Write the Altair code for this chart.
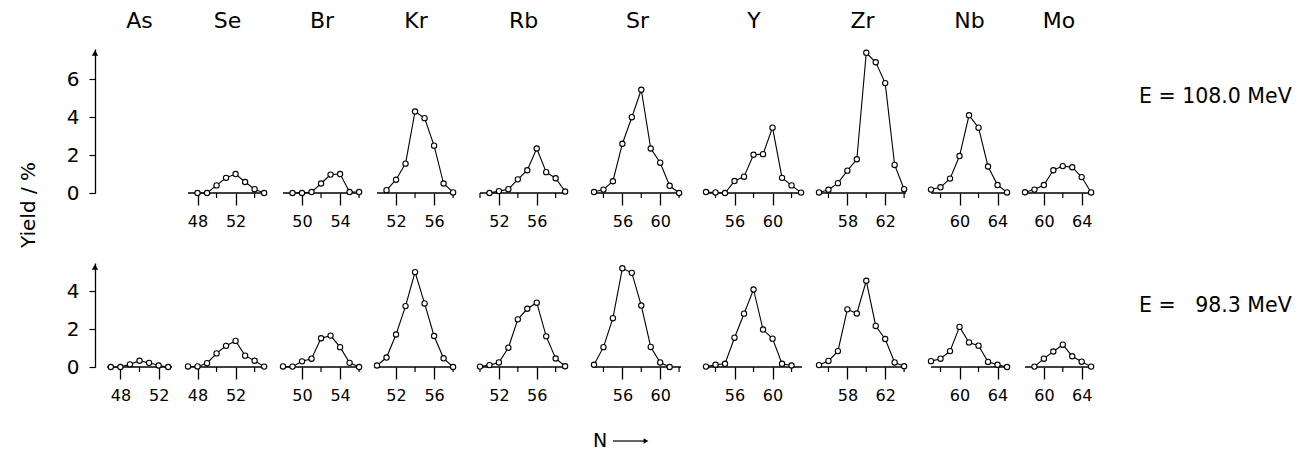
import altair as alt
import pandas as pd

ELEMENTS = ["As", "Se", "Br", "Kr", "Rb", "Sr", "Y", "Zr", "Nb", "Mo"]

# ---------- E = 108.0 MeV : neutron number N and yield (%) ----------
se_108_n = [48, 49, 50, 51, 52, 53, 54, 55]
se_108_y = [0.0, 0.0, 0.4, 0.8, 1.0, 0.58, 0.2, 0.0]
br_108_n = [49, 50, 51, 52, 53, 54, 55, 56]
br_108_y = [0.0, 0.0, 0.05, 0.5, 0.97, 1.0, 0.05, 0.05]
kr_108_n = [51, 52, 53, 54, 55, 56, 57, 58]
kr_108_y = [0.15, 0.7, 1.55, 4.3, 3.95, 2.5, 0.5, 0.03]
rb_108_n = [51, 52, 53, 54, 55, 56, 57, 58, 59]
rb_108_y = [0.0, 0.1, 0.2, 0.72, 1.2, 2.35, 1.1, 0.78, 0.08]
sr_108_n = [53, 54, 55, 56, 57, 58, 59, 60, 61, 62]
sr_108_y = [0.05, 0.18, 0.62, 2.6, 4.0, 5.45, 2.35, 1.6, 0.38, 0.0]
y_108_n = [53, 54, 55, 56, 57, 58, 59, 60, 61, 62, 63]
y_108_y = [0.05, 0.03, 0.0, 0.63, 0.86, 2.02, 2.05, 3.45, 0.8, 0.4, 0.02]
zr_108_n = [55, 56, 57, 58, 59, 60, 61, 62, 63, 64]
zr_108_y = [0.03, 0.17, 0.52, 1.18, 1.78, 7.4, 6.9, 5.8, 1.48, 0.2]
nb_108_n = [57, 58, 59, 60, 61, 62, 63, 64, 65]
nb_108_y = [0.18, 0.3, 0.76, 1.95, 4.1, 3.45, 1.4, 0.42, 0.03]
mo_108_n = [58, 59, 60, 61, 62, 63, 64, 65]
mo_108_y = [0.04, 0.18, 0.42, 1.2, 1.42, 1.36, 0.84, 0.03]

# ---------- E = 98.3 MeV ----------
as_98_n = [47, 48, 49, 50, 51, 52, 53]
as_98_y = [0.0, 0.0, 0.14, 0.33, 0.22, 0.08, 0.0]
se_98_n = [47, 48, 49, 50, 51, 52, 53, 54, 55]
se_98_y = [0.03, 0.03, 0.2, 0.72, 1.12, 1.38, 0.6, 0.33, 0.02]
br_98_n = [48, 49, 50, 51, 52, 53, 54, 55, 56]
br_98_y = [0.03, 0.02, 0.3, 0.44, 1.52, 1.66, 1.05, 0.22, 0.0]
kr_98_n = [50, 51, 52, 53, 54, 55, 56, 57, 58]
kr_98_y = [0.08, 0.5, 1.72, 3.22, 5.02, 3.36, 1.64, 0.46, 0.0]
rb_98_n = [50, 51, 52, 53, 54, 55, 56, 57, 58, 59]
rb_98_y = [0.02, 0.1, 0.24, 1.02, 2.52, 3.08, 3.4, 1.62, 0.45, 0.04]
sr_98_n = [53, 54, 55, 56, 57, 58, 59, 60, 61]
sr_98_y = [0.12, 1.05, 2.58, 5.22, 4.98, 3.25, 1.06, 0.24, 0.0]
y_98_n = [53, 54, 55, 56, 57, 58, 59, 60, 61, 62]
y_98_y = [0.02, 0.12, 0.17, 1.55, 2.82, 4.1, 1.98, 1.5, 0.17, 0.08]
zr_98_n = [55, 56, 57, 58, 59, 60, 61, 62, 63, 64]
zr_98_y = [0.1, 0.32, 0.84, 3.05, 2.83, 4.56, 2.17, 1.48, 0.24, 0.04]
nb_98_n = [57, 58, 59, 60, 61, 62, 63, 64, 65]
nb_98_y = [0.31, 0.44, 0.84, 2.12, 1.3, 1.13, 0.27, 0.12, 0.0]
mo_98_n = [59, 60, 61, 62, 63, 64, 65]
mo_98_y = [0.02, 0.44, 0.82, 1.18, 0.57, 0.28, 0.02]

# tick labels (labelled = major, unlabelled = minor) and N-axis extents per element
major_ticks = {"As": [48, 52], "Se": [48, 52], "Br": [50, 54], "Kr": [52, 56], "Rb": [52, 56],
               "Sr": [56, 60], "Y": [56, 60], "Zr": [58, 62], "Nb": [60, 64], "Mo": [60, 64]}
minor_ticks = {"As": [50], "Se": [50, 54], "Br": [52, 56], "Kr": [54, 58], "Rb": [50, 54, 58],
               "Sr": [54, 58, 62], "Y": [54, 58, 62], "Zr": [56, 60, 64], "Nb": [58, 62], "Mo": [62]}
axis_lo = {"As": 46.6, "Se": 47.0, "Br": 48.0, "Kr": 50.0, "Rb": 50.0,
           "Sr": 53.0, "Y": 53.0, "Zr": 55.0, "Nb": 57.0, "Mo": 58.0}
axis_hi = {"As": 53.4, "Se": 55.3, "Br": 56.2, "Kr": 58.2, "Rb": 59.2,
           "Sr": 62.2, "Y": 63.1, "Zr": 64.2, "Nb": 65.1, "Mo": 65.2}

series = {
    "108": {"Se": (se_108_n, se_108_y), "Br": (br_108_n, br_108_y), "Kr": (kr_108_n, kr_108_y),
            "Rb": (rb_108_n, rb_108_y), "Sr": (sr_108_n, sr_108_y), "Y": (y_108_n, y_108_y),
            "Zr": (zr_108_n, zr_108_y), "Nb": (nb_108_n, nb_108_y), "Mo": (mo_108_n, mo_108_y)},
    "98": {"As": (as_98_n, as_98_y), "Se": (se_98_n, se_98_y), "Br": (br_98_n, br_98_y),
           "Kr": (kr_98_n, kr_98_y), "Rb": (rb_98_n, rb_98_y), "Sr": (sr_98_n, sr_98_y),
           "Y": (y_98_n, y_98_y), "Zr": (zr_98_n, zr_98_y), "Nb": (nb_98_n, nb_98_y),
           "Mo": (mo_98_n, mo_98_y)},
}
energy_label = {"108": "E = 108.0 MeV", "98": "E = \u200798.3 MeV"}

# ---------- layout (not data) ----------
PX = 9.5     # px per unit N
PY = 18.9    # px per % yield
gap_after = {"As": 16, "Se": 16, "Br": 16, "Kr": 25, "Rb": 27, "Sr": 25, "Y": 17, "Zr": 25, "Nb": 17}
YMAX = {"108": 7.6, "98": 5.5}
FONT = "DejaVu Sans"


def panel(el, row):
    lo, hi = axis_lo[el], axis_hi[el]
    w = round((hi - lo) * PX)
    ymax = YMAX[row]
    h = round(ymax * PY)
    xs = alt.Scale(domain=[lo, hi], nice=False, zero=False)
    ys = alt.Scale(domain=[0, ymax], nice=False)
    first = el == ELEMENTS[0]
    n, yv = series[row].get(el, ([], []))
    df = pd.DataFrame({"N": n, "Yield": yv})
    info = pd.DataFrame({"mid": [(lo + hi) / 2], "N": [lo], "zero": [0.0], "row": [row], "el": [el]})
    base = pd.DataFrame({"N": [lo, hi], "row": [row, row], "el": [el, el]})
    minor = pd.DataFrame({"N": minor_ticks[el], "row": row, "el": el})
    yaxis = None
    if first:
        yaxis = alt.Axis(values=[0, 2, 4, 6] if row == "108" else [0, 2, 4], title=None, grid=False,
                         domain=True, domainColor="black", domainWidth=1.3, tickColor="black",
                         tickSize=6, tickWidth=1.2, labelPadding=10, labelFont=FONT,
                         labelFontSize=20, labelColor="black", offset=12)
    layers = []
    if first:
        layers.append(alt.Chart(info).mark_point(opacity=0).encode(
            x=alt.X("N:Q", scale=xs, axis=None),
            y=alt.Y("zero:Q", scale=ys, axis=yaxis)))
        layers.append(alt.Chart(info).mark_point(shape="triangle-up", filled=True, color="black",
                                                 size=40, opacity=1).encode(
            x=alt.value(-12), y=alt.value(4)))
    if len(n) > 0:
        # N axis line and its unlabelled ticks
        layers.append(alt.Chart(base).mark_line(color="black", strokeWidth=1.3).encode(
            x=alt.X("N:Q", scale=xs, axis=None), y=alt.value(h)))
        layers.append(alt.Chart(minor).mark_rule(color="black", strokeWidth=1.2).encode(
            x=alt.X("N:Q", scale=xs, axis=None), y=alt.value(h), y2=alt.value(h + 5)))
        layers.append(alt.Chart(df).mark_line(color="black", strokeWidth=1.1).encode(
            x=alt.X("N:Q", scale=xs, axis=alt.Axis(values=major_ticks[el], tickSize=12, tickWidth=1.3,
                                                   tickColor="black", domain=False, grid=False, title=None,
                                                   orient="bottom", labelFont=FONT, labelFontSize=16,
                                                   labelColor="black", labelPadding=8, format="d")),
            y=alt.Y("Yield:Q", scale=ys, axis=yaxis)))
        layers.append(alt.Chart(df).mark_point(shape="circle", filled=True, fill="white", stroke="black",
                                               strokeWidth=1.1, size=28, opacity=1).encode(
            x=alt.X("N:Q", scale=xs, axis=None),
            y=alt.Y("Yield:Q", scale=ys, axis=yaxis)))
    if row == "108":
        layers.append(alt.Chart(info).mark_text(text=el, font=FONT, fontSize=22, baseline="middle",
                                                color="black").encode(
            x=alt.X("mid:Q", scale=xs, axis=None), y=alt.value(-28)))
        if first:
            layers.append(alt.Chart(info).mark_text(text="Yield / %", font=FONT, fontSize=20, angle=270,
                                                    baseline="middle", color="black").encode(
                x=alt.value(-78), y=alt.value(156)))
    if el == "Mo":
        layers.append(alt.Chart(info).mark_text(text=energy_label[row], font=FONT, fontSize=20.5,
                                                align="left", baseline="middle", color="black").encode(
            x=alt.value(114), y=alt.value(48 if row == "108" else 43)))
    if row == "98" and el == "Sr":
        layers.append(alt.Chart(info).mark_text(text="N", font=FONT, fontSize=19, baseline="middle",
                                                color="black").encode(x=alt.value(6), y=alt.value(74 + h)))
        layers.append(alt.Chart(info).mark_rule(color="black", strokeWidth=1.2).encode(
            x=alt.value(19), x2=alt.value(51), y=alt.value(74 + h)))
        layers.append(alt.Chart(info).mark_point(shape="triangle-right", filled=True, color="black",
                                                 size=30, opacity=1).encode(x=alt.value(52), y=alt.value(74 + h)))
    return alt.layer(*layers).resolve_axis(x="independent").properties(width=w, height=h)


def spacer(el, row):
    g = pd.DataFrame({"s": [0], "row": [row], "el": [el]})
    return alt.Chart(g).mark_point(opacity=0).encode(
        x=alt.value(0), y=alt.value(0)).properties(width=gap_after[el], height=round(YMAX[row] * PY))


rows = []
for row in ["108", "98"]:
    cells = []
    for el in ELEMENTS:
        cells.append(panel(el, row))
        if el in gap_after:
            cells.append(spacer(el, row))
    rows.append(alt.hconcat(*cells, spacing=0, bounds="flush"))

chart = alt.vconcat(*rows, spacing=11).properties(
    padding={"left": 11, "top": 2, "right": 5, "bottom": 2}
).configure(background="white", view=alt.ViewConfig(stroke=None))

chart.save("out.html", embed_options={"renderer": "svg", "actions": False})
